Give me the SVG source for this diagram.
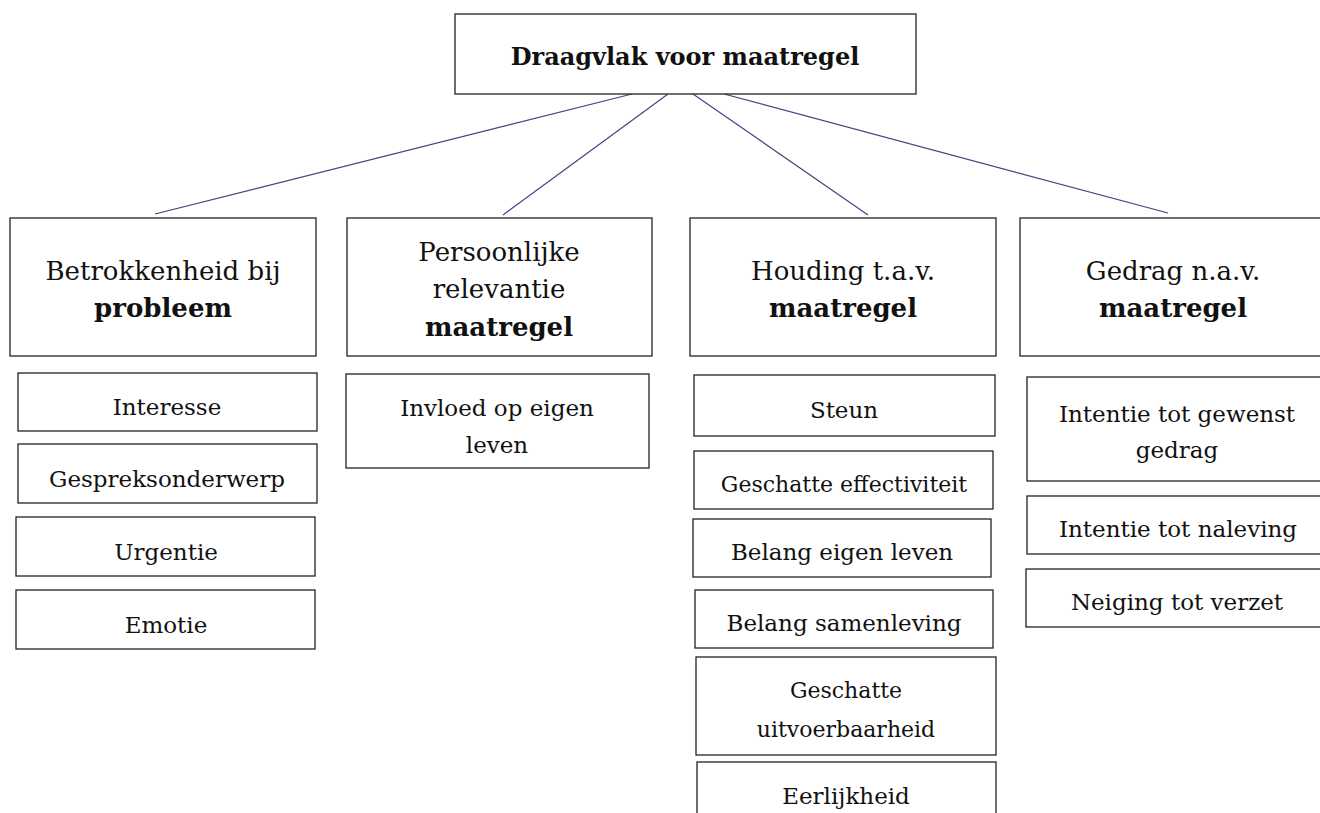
<svg xmlns="http://www.w3.org/2000/svg" width="1320" height="813" viewBox="0 0 1320 813">
<style>
.box{fill:#fff;stroke:#222;stroke-width:1.3}
.t{font-family:"DejaVu Serif","Liberation Serif",serif;fill:#111;text-anchor:middle}
.l2{font-size:26px}
.s{font-size:23px}
.s2{font-size:22px}
.b{font-weight:bold}
.c{stroke:#3c4680;stroke-width:1.2;fill:none}
</style>
<rect width="1320" height="813" fill="#fff"/>
<g id="connectors">
<line class="c" x1="632" y1="94" x2="155" y2="214"/>
<line class="c" x1="668" y1="94" x2="503" y2="215"/>
<line class="c" x1="693" y1="94" x2="868" y2="215"/>
<line class="c" x1="724" y1="94" x2="1168" y2="213"/>
</g>
<g id="root"><rect class="box" x="455" y="14" width="461" height="80"/><text class="t b" x="685" y="65" font-size="24">Draagvlak voor maatregel</text></g>
<g id="n1"><rect class="box" x="10" y="218" width="306" height="138"/><text class="t l2" x="163" y="280">Betrokkenheid bij</text><text class="t l2 b" x="163" y="317">probleem</text></g>
<g id="n2"><rect class="box" x="347" y="218" width="305" height="138"/><text class="t l2" x="499" y="261">Persoonlijke</text><text class="t l2" x="499" y="298">relevantie</text><text class="t l2 b" x="499" y="336">maatregel</text></g>
<g id="n3"><rect class="box" x="690" y="218" width="306" height="138"/><text class="t l2" x="843" y="280">Houding t.a.v.</text><text class="t l2 b" x="843" y="317">maatregel</text></g>
<g id="n4"><rect class="box" x="1020" y="218" width="306" height="138"/><text class="t l2" x="1173" y="280">Gedrag n.a.v.</text><text class="t l2 b" x="1173" y="317">maatregel</text></g>
<g id="s1"><rect class="box" x="18" y="373" width="299" height="58"/><text class="t s" x="167" y="415">Interesse</text></g>
<g id="s2"><rect class="box" x="18" y="444" width="299" height="59"/><text class="t s" x="167" y="487">Gespreksonderwerp</text></g>
<g id="s3"><rect class="box" x="16" y="517" width="299" height="59"/><text class="t s" x="166" y="560">Urgentie</text></g>
<g id="s4"><rect class="box" x="16" y="590" width="299" height="59"/><text class="t s" x="166" y="633">Emotie</text></g>
<g id="s5"><rect class="box" x="346" y="374" width="303" height="94"/><text class="t s" x="497" y="416">Invloed op eigen</text><text class="t s" x="497" y="453">leven</text></g>
<g id="s6"><rect class="box" x="694" y="375" width="301" height="61"/><text class="t s" x="844" y="418">Steun</text></g>
<g id="s7"><rect class="box" x="694" y="451" width="299" height="58"/><text class="t s2" x="844" y="492">Geschatte effectiviteit</text></g>
<g id="s8"><rect class="box" x="693" y="519" width="298" height="58"/><text class="t s" x="842" y="560">Belang eigen leven</text></g>
<g id="s9"><rect class="box" x="695" y="590" width="298" height="58"/><text class="t s" x="844" y="631">Belang samenleving</text></g>
<g id="s10"><rect class="box" x="696" y="657" width="300" height="98"/><text class="t s2" x="846" y="698">Geschatte</text><text class="t s2" x="846" y="737">uitvoerbaarheid</text></g>
<g id="s11"><rect class="box" x="697" y="762" width="299" height="60"/><text class="t s" x="846" y="804">Eerlijkheid</text></g>
<g id="s12"><rect class="box" x="1027" y="377" width="300" height="104"/><text class="t s" x="1177" y="422">Intentie tot gewenst</text><text class="t s" x="1177" y="458">gedrag</text></g>
<g id="s13"><rect class="box" x="1027" y="496" width="300" height="58"/><text class="t s" x="1178" y="537">Intentie tot naleving</text></g>
<g id="s14"><rect class="box" x="1026" y="569" width="300" height="58"/><text class="t s" x="1177" y="610">Neiging tot verzet</text></g>
</svg>
